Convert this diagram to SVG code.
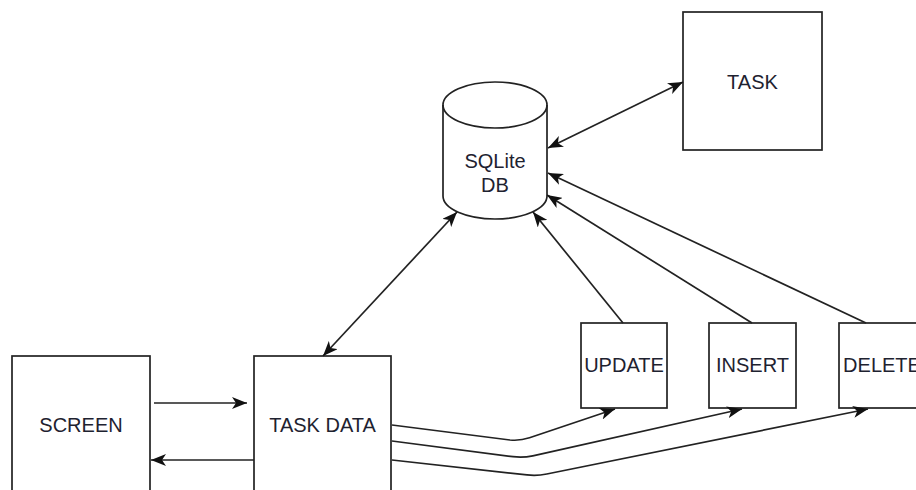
<svg xmlns="http://www.w3.org/2000/svg" width="916" height="490" viewBox="0 0 916 490">
  <style>
    .box { fill: #ffffff; stroke: #222222; stroke-width: 1.7; }
    .lbl { font-family: "Liberation Sans", Arial, sans-serif; font-size: 20px; fill: #1e2230; text-anchor: middle; }
    .edge { fill: none; stroke: #222222; stroke-width: 1.7; }
  </style>
  <defs>
    <marker id="arrow" viewBox="0 0 15 12" refX="15" refY="6" markerWidth="15" markerHeight="12" markerUnits="userSpaceOnUse" orient="auto-start-reverse">
      <path d="M0,0 L15,6 L0,12 L4,6 Z" fill="#111111"/>
    </marker>
  </defs>
  <rect width="916" height="490" fill="#ffffff"/>

  <g id="task">
    <rect class="box" x="683" y="12" width="139" height="138"/>
    <text class="lbl" x="752.5" y="89">TASK</text>
  </g>

  <g id="sqlite-db">
    <path class="box" d="M443,105 L443,196 A52,23 0 0 0 547,196 L547,105 A52,23 0 0 0 443,105 Z"/>
    <path class="edge" d="M443,105 A52,23 0 0 0 547,105"/>
    <text class="lbl" x="495" y="168">SQLite</text>
    <text class="lbl" x="495" y="192">DB</text>
  </g>

  <g id="screen">
    <rect class="box" x="12" y="356" width="138" height="150"/>
    <text class="lbl" x="81" y="432">SCREEN</text>
  </g>

  <g id="task-data">
    <rect class="box" x="254" y="356" width="137" height="150"/>
    <text class="lbl" x="322.5" y="432">TASK DATA</text>
  </g>

  <g id="update">
    <rect class="box" x="581" y="323" width="86" height="85"/>
    <text class="lbl" x="624" y="372">UPDATE</text>
  </g>

  <g id="insert">
    <rect class="box" x="709" y="323" width="87" height="85"/>
    <text class="lbl" x="752.5" y="372">INSERT</text>
  </g>

  <g id="delete">
    <rect class="box" x="839" y="323" width="86" height="85"/>
    <text class="lbl" x="882" y="372">DELETE</text>
  </g>

  <g id="connectors">
    <line class="edge" x1="548" y1="148" x2="683" y2="82" marker-start="url(#arrow)" marker-end="url(#arrow)"/>
    <line class="edge" x1="323" y1="356" x2="457" y2="212" marker-start="url(#arrow)" marker-end="url(#arrow)"/>
    <line class="edge" x1="623" y1="323" x2="533" y2="212" marker-end="url(#arrow)"/>
    <line class="edge" x1="752" y1="323" x2="547" y2="195" marker-end="url(#arrow)"/>
    <line class="edge" x1="866" y1="323" x2="548" y2="173" marker-end="url(#arrow)"/>
    <line class="edge" x1="154" y1="403" x2="247" y2="403" marker-end="url(#arrow)"/>
    <line class="edge" x1="254" y1="460" x2="151" y2="460" marker-end="url(#arrow)"/>
    <path class="edge" d="M392,425 L510,440 Q520,441 529.5,437.8 L615,409" marker-end="url(#arrow)"/>
    <path class="edge" d="M392,441 L513,456.7 Q523,458 532.8,455.8 L742,409" marker-end="url(#arrow)"/>
    <path class="edge" d="M392,460 L527,474.9 Q537,476 546.8,474 L868,409" marker-end="url(#arrow)"/>
  </g>
</svg>
